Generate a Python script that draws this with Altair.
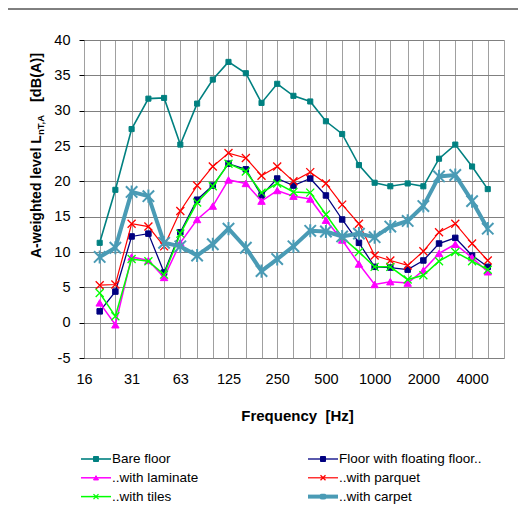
import altair as alt
import pandas as pd

# ---------------- data ----------------
freqs = [20, 25, 31.5, 40, 50, 63, 80, 100, 125, 160, 200, 250, 315, 400, 500,
         630, 800, 1000, 1250, 1600, 2000, 2500, 3150, 4000, 5000]

bare_floor = [11.3, 18.8, 27.4, 31.7, 31.8, 25.2, 31.0, 34.4, 36.9, 35.3, 31.1, 33.8, 32.1,
              31.3, 28.5, 26.7, 22.3, 19.8, 19.3, 19.7, 19.3, 23.2, 25.2, 22.1, 18.9]
floating = [1.6, 4.4, 12.2, 12.6, 7.1, 12.8, 17.4, 19.4, 22.5, 21.7, 18.0, 20.4, 19.4,
            20.4, 18.0, 14.6, 11.3, 7.9, 7.8, 7.5, 8.8, 11.2, 12.0, 9.5, 7.9]
laminate = [2.8, -0.3, 9.3, 8.8, 6.4, 11.3, 14.6, 16.5, 20.2, 19.7, 17.2, 18.7, 17.9,
            17.5, 14.5, 11.7, 8.3, 5.4, 5.8, 5.6, 7.4, 9.8, 11.1, 9.2, 7.2]
parquet = [5.3, 5.4, 14.0, 13.6, 10.8, 15.8, 19.4, 22.1, 24.0, 23.3, 20.8, 22.1, 20.0,
           21.3, 19.7, 16.7, 14.0, 9.5, 8.8, 8.1, 10.1, 12.8, 14.0, 11.2, 8.8]
tiles = [4.2, 0.9, 9.0, 8.7, 6.8, 12.6, 17.0, 19.3, 22.5, 21.4, 18.4, 19.7, 18.5,
         18.4, 15.3, 12.1, 10.0, 7.9, 7.9, 6.1, 6.7, 8.7, 10.0, 8.7, 7.5]
carpet = [9.3, 10.6, 18.5, 17.9, 11.3, 10.8, 9.5, 11.1, 13.3, 10.6, 7.3, 9.0, 10.8,
          13.0, 12.9, 12.2, 12.6, 12.1, 13.6, 14.4, 16.5, 20.7, 20.9, 17.2, 13.3]

series_names = ["Bare floor", "Floor with floating floor..", "..with laminate",
                "..with parquet", "..with tiles", "..with carpet"]
series_values = [bare_floor, floating, laminate, parquet, tiles, carpet]

axis_bands = [16, 20, 25, 31.5, 40, 50, 63, 80, 100, 125, 160, 200, 250, 315, 400, 500,
              630, 800, 1000, 1250, 1600, 2000, 2500, 3150, 4000, 5000, 6300]
labelled_bands = [16, 31.5, 63, 125, 250, 500, 1000, 2000, 4000]
y_ticks = [-5, 0, 5, 10, 15, 20, 25, 30, 35, 40]

# ---------------- styles ----------------
colors = ["#008080", "#000080", "#FF00FF", "#FF0000", "#00FF00", "#4A9BB5"]
shapes = ["square", "square", "triangle-up",
          "M-1,-1L1,1M-1,1L1,-1", "M-1,-1L1,1M-1,1L1,-1",
          "M-1,-1L1,1M-1,1L1,-1M0,-1.15L0,1.15"]
marker_sizes = [26, 30, 55, 64, 64, 130]
line_widths = [1.6, 1.3, 1.5, 1.2, 1.5, 4.0]
marker_stroke = [1, 1, 1, 1.3, 1.3, 2.0]
FONT = "Liberation Sans"

rows = []
for name, vals in zip(series_names, series_values):
    for f, v in zip(freqs, vals):
        rows.append({"series": name, "freq": f, "level": v})
df = pd.DataFrame(rows)

xscale = alt.Scale(type="log", domain=[16, 6300], nice=False)
yscale = alt.Scale(domain=[-5, 40], nice=False, zero=False)

label_expr = "datum.value == 31.5 ? '31' : (" + " || ".join(
    f"datum.value == {v}" for v in labelled_bands if v != 31.5) + ") ? '' + datum.value : ''"

xaxis = alt.Axis(values=axis_bands, grid=True, gridColor="#a0a0a0", gridWidth=1,
                 domain=False, ticks=False, tickSize=0, labelExpr=label_expr,
                 labelFont=FONT, labelFontSize=14.5, labelColor="#000",
                 labelBaseline="alphabetic", labelPadding=25, labelFlush=False,
                 labelOverlap=False, labelBound=False,
                 title="Frequency\u00a0 [Hz]", titleFont=FONT, titleFontSize=15,
                 titleFontWeight="bold", titleColor="#000", titleBaseline="alphabetic",
                 titleAlign="center", titleX=213, titleY=62)
yaxis = alt.Axis(values=y_ticks, grid=True, gridColor="#808080", gridWidth=1,
                 domain=False, ticks=True, tickSize=5, tickColor="#000",
                 labelExpr="'' + datum.value",
                 labelFont=FONT, labelFontSize=14.5, labelColor="#000",
                 labelPadding=9, title=None)

layers = []

# outer chart frame
frame = alt.Chart(pd.DataFrame({"k": [0]})).mark_rect(
    fill="transparent", stroke="#000", strokeWidth=1
).encode(x=alt.value(-77), x2=alt.value(460), y=alt.value(-31), y2=alt.value(520))
layers.append(frame)

for i, name in enumerate(series_names):
    base = alt.Chart(df).transform_filter(alt.datum.series == name)
    line = base.mark_line(color=colors[i], strokeWidth=line_widths[i]).encode(
        x=alt.X("freq:Q", scale=xscale, axis=xaxis),
        y=alt.Y("level:Q", scale=yscale, axis=yaxis),
    )
    pts = base.mark_point(filled=True, fill=colors[i], stroke=colors[i],
                          strokeWidth=marker_stroke[i], shape=shapes[i],
                          size=marker_sizes[i], opacity=1).encode(
        x=alt.X("freq:Q", scale=xscale, axis=xaxis),
        y=alt.Y("level:Q", scale=yscale, axis=yaxis),
    )
    layers += [line, pts]

# ---------------- custom legend ----------------
leg_df = pd.DataFrame({"series": series_names, "idx": list(range(6)),
                       "lw": line_widths, "msw": marker_stroke})
leg = alt.Chart(leg_df).transform_calculate(
    row="floor(datum.idx / 2)", col="datum.idx % 2"
).transform_calculate(
    ly="419 + datum.row * 18.8", lx1="-3 + datum.col * 227"
).transform_calculate(
    lx2="datum.lx1 + 30", lmx="datum.lx1 + 15", ltx="datum.lx1 + 31"
)
cscale = alt.Scale(domain=series_names, range=colors)
leg_line = leg.mark_rule().encode(
    x=alt.X("lx1:Q", scale=None), x2="lx2:Q", y=alt.Y("ly:Q", scale=None),
    color=alt.Color("series:N", scale=cscale, legend=None),
    strokeWidth=alt.StrokeWidth("lw:Q", scale=None),
)
leg_pts = leg.mark_point(filled=True, opacity=1).encode(
    x=alt.X("lmx:Q", scale=None), y=alt.Y("ly:Q", scale=None),
    fill=alt.Fill("series:N", scale=cscale, legend=None),
    stroke=alt.Stroke("series:N", scale=cscale, legend=None),
    shape=alt.Shape("series:N", scale=alt.Scale(domain=series_names, range=shapes), legend=None),
    size=alt.Size("series:N", scale=alt.Scale(domain=series_names, range=[25, 25, 50, 55, 55, 80]), legend=None),
    strokeWidth=alt.StrokeWidth("msw:Q", scale=None),
)
leg_txt = leg.mark_text(align="left", baseline="middle", font=FONT, fontSize=13.5,
                        color="#000").encode(
    x=alt.X("ltx:Q", scale=None), y=alt.Y("ly:Q", scale=None), text="series:N")
layers += [leg_line, leg_pts, leg_txt]

# ---------------- y axis title with subscript ----------------
one = pd.DataFrame({"k": [0]})
t1 = alt.Chart(one).mark_text(text="A-weighted level L", angle=270, align="left",
                              baseline="alphabetic", font=FONT, fontSize=14,
                              fontWeight="bold", color="#000").encode(
    x=alt.value(-43.5), y=alt.value(218))
t2 = alt.Chart(one).mark_text(text="nT,A", angle=270, align="left",
                              baseline="alphabetic", font=FONT, fontSize=9.5,
                              fontWeight="bold", color="#000").encode(
    x=alt.value(-40.5), y=alt.value(95))
t3 = alt.Chart(one).mark_text(text="[dB(A)]", angle=270, align="left",
                              baseline="alphabetic", font=FONT, fontSize=14.5,
                              fontWeight="bold", color="#000").encode(
    x=alt.value(-43.5), y=alt.value(62))
layers += [t1, t2, t3]

chart = alt.layer(*layers).properties(
    width=420, height=318,
    padding={"left": 76, "top": 32, "right": 14, "bottom": 161},
    autosize="none",
).configure_view(stroke="#000", strokeWidth=2).configure(background="white")

chart.save("out.html", embed_options={"renderer": "svg", "actions": False})
